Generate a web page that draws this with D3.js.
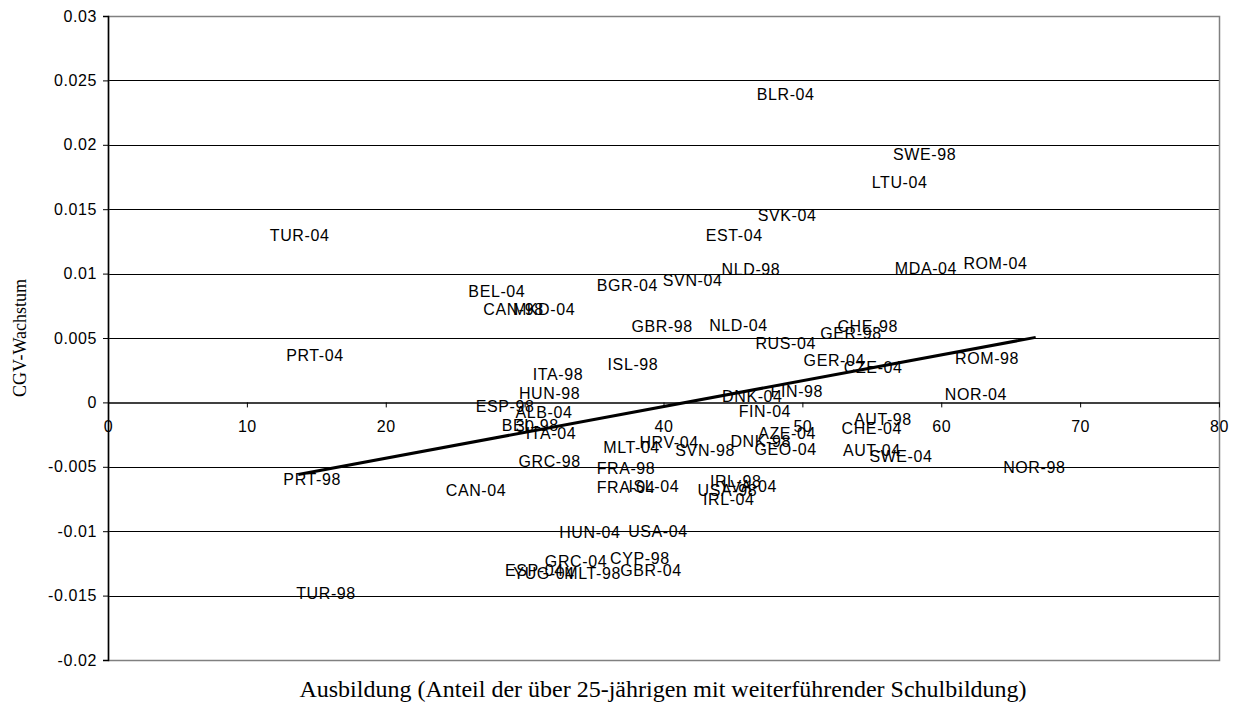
<!DOCTYPE html>
<html>
<head>
<meta charset="utf-8">
<script src="https://cdn.jsdelivr.net/npm/d3@7"></script>
<style>
  body { margin: 0; background: #fff; }
  .chart text { font-family: "Liberation Sans", Arial, sans-serif; }
</style>
</head>
<body>
<svg class="chart"></svg>
<script>
// labels of the points (country-year)
var names = ["TUR-04","BLR-04","SWE-98","LTU-04","SVK-04","EST-04","NLD-98","MDA-04","ROM-04",
  "BEL-04","BGR-04","SVN-04","CAN-98","MKD-04","GBR-98","NLD-04","RUS-04","GER-98","CHE-98",
  "PRT-04","ITA-98","ISL-98","GER-04","CZE-04","ROM-98","HUN-98","DNK-04","FIN-98","NOR-04",
  "ESP-98","ALB-04","FIN-04","AUT-98","BEL-98","ITA-04","AZE-04","CHE-04","MLT-04","HRV-04",
  "SVN-98","DNK-98","GEO-04","AUT-04","SWE-04","NOR-98","GRC-98","FRA-98","PRT-98","CAN-04",
  "FRA-04","ISL-04","USA-98","IRL-98","IRL-04","LVA-04","HUN-04","USA-04","GRC-04","CYP-98",
  "ESP-04","YUG-04","MLT-98","GBR-04","TUR-98"];
// Ausbildung (%)
var ausbildung = [13.8,48.8,58.8,57.0,48.9,45.1,46.3,58.9,63.9,
  28.0,37.4,42.1,29.2,31.4,39.9,45.4,48.8,53.5,54.7,
  14.9,32.4,37.8,52.3,55.1,63.3,31.8,46.4,49.6,62.5,
  28.6,31.4,47.3,55.8,30.4,31.9,48.9,55.0,37.7,40.4,
  43.0,47.0,48.8,55.0,57.1,66.7,31.8,37.3,14.7,26.5,
  37.3,39.3,44.6,45.2,44.7,46.2,34.7,39.6,33.7,38.3,
  30.7,31.4,34.9,39.1,15.7];
// CGV-Wachstum
var wachstum = [0.0130,0.0239,0.0193,0.0171,0.0145,0.0130,0.0103,0.0104,0.0108,
  0.0086,0.0091,0.0095,0.0072,0.0072,0.0059,0.0060,0.0046,0.0054,0.0059,
  0.0037,0.0022,0.0030,0.0033,0.0027,0.0034,0.0007,0.0005,0.0009,0.0006,
  -0.0003,-0.0008,-0.0007,-0.0013,-0.0018,-0.0024,-0.0024,-0.0020,-0.0035,-0.0031,
  -0.0037,-0.0030,-0.0036,-0.0037,-0.0042,-0.0050,-0.0046,-0.0051,-0.0060,-0.0068,
  -0.0066,-0.0065,-0.0068,-0.0061,-0.0075,-0.0065,-0.0101,-0.0100,-0.0123,-0.0121,
  -0.0130,-0.0133,-0.0133,-0.0130,-0.0148];
// linear trend line endpoints
var trendX = [13.7, 66.8];
var trendY = [-0.0056, 0.00505];

var xTicks = [0,10,20,30,40,50,60,70,80];
var yTicks = [0.03,0.025,0.02,0.015,0.01,0.005,0,-0.005,-0.01,-0.015,-0.02];

var W = 1235, H = 706;
var margin = { top: 16, right: 16, bottom: 46, left: 108 },
    width = W - margin.left - margin.right,
    height = H - margin.top - margin.bottom;

var x = d3.scaleLinear().domain([0, 80]).range([0, width]);
var y = d3.scaleLinear().domain([-0.02, 0.03]).range([height, 0]);

var svg = d3.select(".chart").attr("width", W).attr("height", H);
var chart = svg.append("g")
    .attr("transform", "translate(" + margin.left + "," + margin.top + ")");

// horizontal gridlines
chart.selectAll(".grid")
    .data(yTicks.filter(function (d) { return d !== 0 && d !== 0.03 && d !== -0.02; }))
    .enter().append("line")
    .attr("x1", 0).attr("x2", width)
    .attr("y1", function (d) { return Math.round(y(d)) + 0.5; })
    .attr("y2", function (d) { return Math.round(y(d)) + 0.5; })
    .attr("stroke", "#000").attr("stroke-width", 1);

// plot frame
chart.append("rect")
    .attr("x", 0.5).attr("y", 0.5)
    .attr("width", width).attr("height", height)
    .attr("fill", "none").attr("stroke", "#808080").attr("stroke-width", 1.5);

// y axis
var yAxis = chart.append("g")
    .call(d3.axisLeft(y).tickValues(yTicks).tickSize(5).tickPadding(6)
      .tickFormat(function (d) { return String(+d.toFixed(3)); }));
yAxis.select(".domain").attr("stroke", "#000").attr("stroke-width", 1.5);
yAxis.selectAll("text").style("font-size", "16px").style("letter-spacing", "0.6px").attr("fill", "#000");

// x axis at y = 0
var xAxis = chart.append("g")
    .attr("transform", "translate(0," + y(0) + ")")
    .call(d3.axisBottom(x).tickValues(xTicks).tickSize(5).tickPadding(13)
      .tickSizeOuter(0));
xAxis.select(".domain").attr("stroke", "#000").attr("stroke-width", 1.5);
xAxis.selectAll("text").style("font-size", "16px").style("letter-spacing", "0.6px").attr("fill", "#000");

// data labels (markers hidden)
chart.selectAll(".lbl")
    .data(names)
    .enter().append("text")
    .attr("class", "lbl")
    .attr("x", function (d, i) { return x(ausbildung[i]); })
    .attr("y", function (d, i) { return y(wachstum[i]); })
    .attr("dy", "0.36em")
    .attr("text-anchor", "middle")
    .style("font-size", "16px")
    .style("letter-spacing", "0.6px")
    .attr("fill", "#000")
    .text(function (d) { return d; });

// trend line
chart.append("line")
    .attr("x1", x(trendX[0])).attr("y1", y(trendY[0]))
    .attr("x2", x(trendX[1])).attr("y2", y(trendY[1]))
    .attr("stroke", "#000").attr("stroke-width", 3);

// axis titles
svg.append("text")
    .attr("transform", "translate(20," + (margin.top + height / 2) + ") rotate(-90)")
    .attr("text-anchor", "middle")
    .attr("dy", "0.35em")
    .style("font-family", "'Liberation Serif', 'Times New Roman', serif")
    .style("font-size", "18px")
    .text("CGV-Wachstum");

svg.append("text")
    .attr("x", 663).attr("y", 697)
    .attr("text-anchor", "middle")
    .style("font-family", "'Liberation Serif', 'Times New Roman', serif")
    .style("font-size", "24px")
    .text("Ausbildung (Anteil der über 25-jährigen mit weiterführender Schulbildung)");
</script>
</body>
</html>
